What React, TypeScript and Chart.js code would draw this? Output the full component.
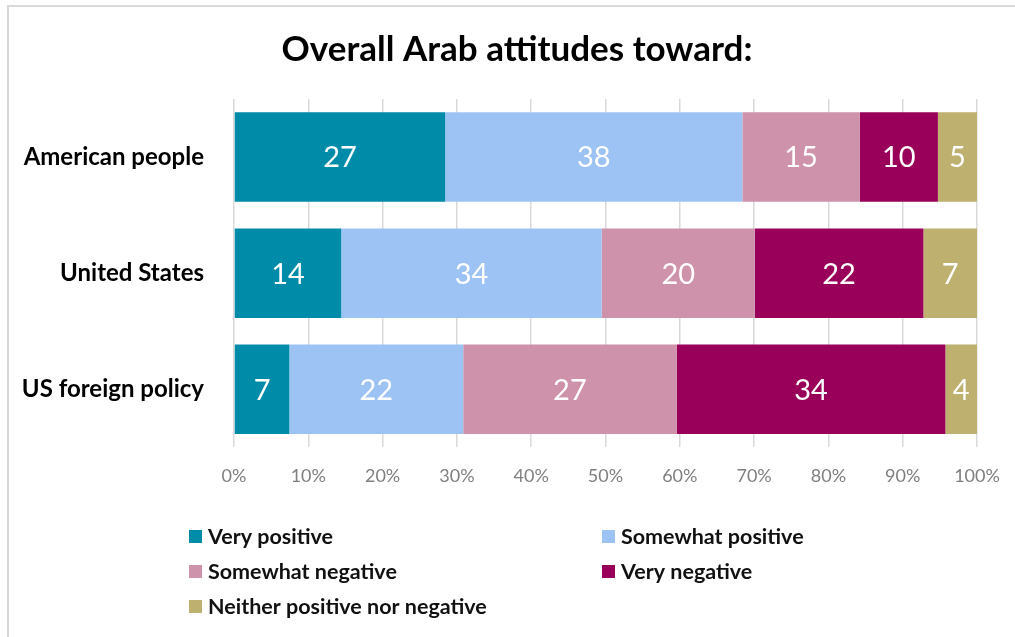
import React, { useEffect, useRef } from "react";
import { Chart, registerables } from "chart.js";

Chart.register(...registerables);

const TITLE = "Overall Arab attitudes toward:";
const categories = ["American people", "United States", "US foreign policy"];
const seriesNames = [
  "Very positive",
  "Somewhat positive",
  "Somewhat negative",
  "Very negative",
  "Neither positive nor negative",
];
const veryPositive = [27, 14, 7];
const somewhatPositive = [38, 34, 22];
const somewhatNegative = [15, 20, 27];
const veryNegative = [10, 22, 34];
const neither = [5, 7, 4];
const seriesColors = ["#008BA8", "#9DC3F5", "#CE92AB", "#99005A", "#BEB06E"];
const xTicks = [0, 10, 20, 30, 40, 50, 60, 70, 80, 90, 100];

const FONT = "Lato, 'Open Sans', sans-serif";

export default function App() {
  const ref = useRef<HTMLCanvasElement | null>(null);

  useEffect(() => {
    if (!ref.current) return;
    const raw = [veryPositive, somewhatPositive, somewhatNegative, veryNegative, neither];
    const totals = categories.map((_, i) => raw.reduce((s, arr) => s + arr[i], 0));
    const datasets = raw.map((arr, k) => ({
      label: seriesNames[k],
      data: arr.map((v, i) => (v / totals[i]) * 100),
      rawValues: arr,
      backgroundColor: seriesColors[k],
      borderWidth: 0,
      categoryPercentage: 1,
      barPercentage: 0.77,
    }));

    const decor = {
      id: "decor",
      afterDraw(chart: any) {
        const ctx = chart.ctx;
        ctx.save();
        // frame
        ctx.strokeStyle = "#d9d9d9";
        ctx.lineWidth = 2;
        ctx.strokeRect(8, 6, 1020, 650);
        // title
        ctx.fillStyle = "#000";
        ctx.font = `bold 35px ${FONT}`;
        ctx.textAlign = "center";
        ctx.textBaseline = "middle";
        ctx.fillText(TITLE, 517, 50);
        // data labels
        ctx.font = `29px ${FONT}`;
        ctx.fillStyle = "#fff";
        chart.data.datasets.forEach((ds: any, di: number) => {
          const meta = chart.getDatasetMeta(di);
          meta.data.forEach((el: any, i: number) => {
            const cx = (el.x + el.base) / 2;
            ctx.fillText(String(ds.rawValues[i]), cx, el.y + 1);
          });
        });
        // legend
        const pos = [
          [189, 536],
          [602, 536],
          [189, 571],
          [602, 571],
          [189, 606],
        ];
        ctx.font = `bold 21.5px ${FONT}`;
        ctx.textAlign = "left";
        seriesNames.forEach((name, k) => {
          const [x, y] = pos[k];
          ctx.fillStyle = seriesColors[k];
          ctx.fillRect(x, y - 6, 13, 13);
          ctx.fillStyle = "#111";
          ctx.fillText(name, x + 19, y + 1);
        });
        ctx.restore();
      },
    };

    const chart = new Chart(ref.current, {
      type: "bar",
      data: { labels: categories, datasets: datasets as any },
      options: {
        indexAxis: "y",
        animation: false,
        responsive: false,
        maintainAspectRatio: false,
        layout: { padding: { left: 0, right: 38, top: 99, bottom: 132 } },
        plugins: {
          legend: { display: false },
          title: { display: false },
          tooltip: { enabled: false },
        },
        scales: {
          x: {
            stacked: true,
            min: 0,
            max: 100,
            afterBuildTicks: (scale: any) => {
              scale.ticks = xTicks.map((v) => ({ value: v }));
            },
            afterFit: (scale: any) => {
              scale.paddingLeft = 0;
              scale.paddingRight = 0;
            },
            ticks: {
              callback: (v: any) => `${v}%`,
              color: "#7f7f7f",
              font: { family: FONT, size: 18 },
              padding: 18,
              maxRotation: 0,
            },
            grid: { color: "#d9d9d9", lineWidth: 1.5, drawTicks: false },
            border: { display: false },
          },
          y: {
            stacked: true,
            afterFit: (scale: any) => {
              scale.width = 234;
            },
            ticks: {
              color: "#000",
              font: { family: FONT, size: 24, weight: "bold" },
              padding: 30,
            },
            grid: { display: false, drawTicks: false },
            border: { display: false },
          },
        },
      },
      plugins: [decor],
    });
    return () => chart.destroy();
  }, []);

  return (
    <div style={{ position: "absolute", left: 0, top: 0, width: 1015, height: 637, background: "#fff" }}>
      <canvas ref={ref} width={1015} height={637} style={{ width: 1015, height: 637, display: "block" }} />
    </div>
  );
}
